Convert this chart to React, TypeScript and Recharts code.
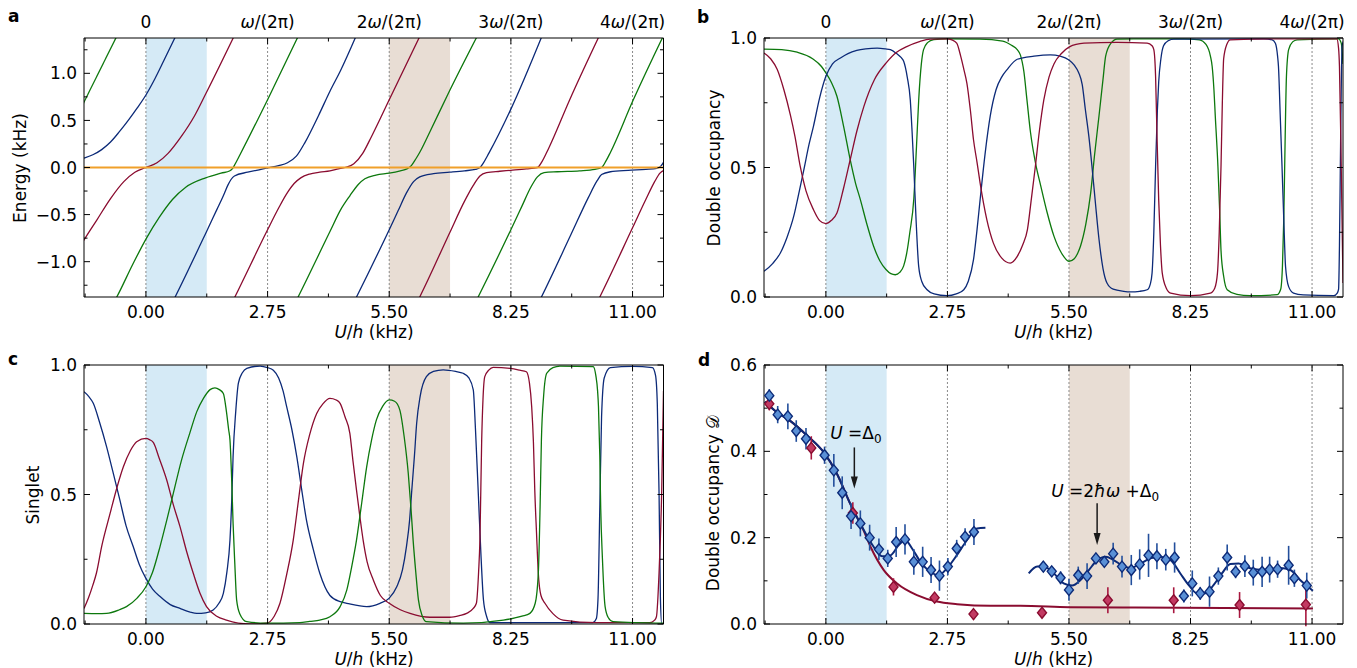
import React from 'react'
import {
  ComposedChart,
  Line,
  Scatter,
  ErrorBar,
  XAxis,
  YAxis,
  ReferenceLine,
  ReferenceArea,
  ReferenceDot,
} from 'recharts'

type Pt = [number, number]
type Dot = [number, number, number]

// ---------- axes / shared ----------
const xDomain = [-1.4, 11.7]
const xTicks = [-1.375, 0, 1.375, 2.75, 4.125, 5.5, 6.875, 8.25, 9.625, 11]
const resonances = [0, 2.75, 5.5, 8.25, 11]
const topLabels = ['0', 'ω/(2π)', '2ω/(2π)', '3ω/(2π)', '4ω/(2π)']
const energyTicks = [-1.25, -1, -0.75, -0.5, -0.25, 0, 0.25, 0.5, 0.75, 1, 1.25]
const fracTicks = [0, 0.25, 0.5, 0.75, 1]
const dTicks = [0, 0.1, 0.2, 0.3, 0.4, 0.5, 0.6]
const blueBand = [0, 1.375]
const brownBand = [5.5, 6.875]

// ---------- a: quasi-energies ----------
const aGreen1: Pt[] = [[-1.5, 0.6], [-0.6, 1.45]]
const aBlue1: Pt[] = [[-1.5, 0.085], [-1.4, 0.1], [-1.2, 0.135], [-1.0, 0.19], [-0.8, 0.27], [-0.6, 0.38], [-0.4, 0.5], [-0.2, 0.63], [0, 0.77], [0.2, 0.94], [0.4, 1.13], [0.75, 1.47]]
const aRed1: Pt[] = [[-1.5, -0.85], [-1.4, -0.77], [-1.1, -0.55], [-0.8, -0.33], [-0.5, -0.15], [-0.25, -0.05], [0, 0], [0.25, 0.05], [0.5, 0.15], [0.8, 0.33], [1.1, 0.55], [1.35, 0.78], [2.05, 1.45]]
const aGreen2: Pt[] = [[-0.75, -1.45], [-0.66, -1.375], [-0.3, -1.03], [0, -0.76], [0.3, -0.53], [0.6, -0.34], [0.9, -0.21], [1.35, -0.11], [1.7, -0.06], [1.9, -0.035], [1.96, -0.01], [2.02, 0.04], [2.12, 0.13], [2.75, 0.72], [3.5, 1.45]]
const aBlue2: Pt[] = [[0.58, -1.45], [0.66, -1.375], [1.35, -0.7], [1.6, -0.45], [1.75, -0.3], [1.85, -0.19], [1.92, -0.13], [2.0, -0.09], [2.3, -0.05], [2.6, -0.02], [2.75, -0.005], [3.0, 0.02], [3.2, 0.05], [3.4, 0.12], [3.6, 0.27], [3.9, 0.55], [4.16, 0.81], [4.4, 1.03], [4.8, 1.45]]
const aRed2: Pt[] = [[1.93, -1.45], [2.01, -1.375], [2.73, -0.68], [3.0, -0.43], [3.18, -0.28], [3.35, -0.17], [3.5, -0.11], [3.7, -0.07], [3.93, -0.05], [4.16, -0.035], [4.35, -0.015], [4.5, 0.0], [4.7, 0.04], [4.9, 0.15], [5.1, 0.33], [5.5, 0.72], [6.25, 1.45]]
const aGreen3: Pt[] = [[3.36, -1.45], [3.44, -1.375], [4.16, -0.68], [4.4, -0.45], [4.61, -0.3], [4.8, -0.18], [4.95, -0.12], [5.2, -0.08], [5.5, -0.06], [5.75, -0.035], [5.9, -0.015], [6.0, 0.02], [6.1, 0.09], [6.2, 0.17], [6.42, 0.38], [6.87, 0.82], [7.55, 1.45]]
const aBlue3: Pt[] = [[4.68, -1.45], [4.76, -1.375], [5.5, -0.66], [5.7, -0.46], [5.89, -0.27], [6.05, -0.15], [6.19, -0.1], [6.5, -0.065], [6.87, -0.05], [7.2, -0.035], [7.45, -0.02], [7.55, 0.0], [7.63, 0.05], [7.75, 0.15], [8.25, 0.62], [9.0, 1.45]]
const aRed3: Pt[] = [[6.11, -1.45], [6.19, -1.375], [6.87, -0.69], [7.2, -0.36], [7.4, -0.19], [7.55, -0.09], [7.7, -0.055], [8.0, -0.04], [8.25, -0.03], [8.6, -0.015], [8.85, 0.0], [8.95, 0.06], [9.1, 0.2], [9.58, 0.72], [10.3, 1.45]]
const aGreen4: Pt[] = [[7.43, -1.45], [7.51, -1.375], [8.25, -0.66], [8.5, -0.41], [8.7, -0.21], [8.85, -0.1], [9.0, -0.055], [9.3, -0.045], [9.8, -0.035], [10.15, -0.02], [10.3, 0.0], [10.4, 0.07], [10.5, 0.16], [11.0, 0.7], [11.75, 1.45]]
const aBlue4: Pt[] = [[8.86, -1.45], [8.94, -1.375], [9.6, -0.72], [10.0, -0.32], [10.2, -0.14], [10.3, -0.075], [10.5, -0.045], [10.9, -0.03], [11.3, -0.02], [11.55, -0.01], [11.65, 0.02], [11.75, 0.1]]
const aRed4: Pt[] = [[10.18, -1.45], [10.26, -1.375], [11.0, -0.64], [11.3, -0.34], [11.5, -0.15], [11.62, -0.06], [11.75, -0.02]]
const aTriplet: Pt[] = [[-1.5, 0], [11.8, 0]]

// ---------- b: double occupancy of the Floquet states ----------
const bGreen: Pt[] = [[-1.4, 0.957], [-1.0, 0.955], [-0.65, 0.945], [-0.3, 0.92], [-0.1, 0.89], [0, 0.865], [0.12, 0.83], [0.25, 0.775], [0.4, 0.66], [0.55, 0.53], [0.67, 0.44], [0.78, 0.376], [0.93, 0.28], [1.08, 0.196], [1.22, 0.14], [1.36, 0.106], [1.47, 0.09], [1.57, 0.086], [1.67, 0.095], [1.76, 0.12], [1.83, 0.17], [1.9, 0.25], [1.99, 0.38], [2.05, 0.58], [2.1, 0.76], [2.16, 0.9], [2.21, 0.955], [2.3, 0.982], [2.44, 0.994], [2.74, 0.997], [3.49, 0.996], [4.0, 0.988], [4.2, 0.972], [4.33, 0.955], [4.4, 0.935], [4.48, 0.87], [4.55, 0.76], [4.63, 0.635], [4.74, 0.52], [4.86, 0.43], [5.0, 0.33], [5.16, 0.235], [5.33, 0.17], [5.5, 0.138], [5.62, 0.148], [5.7, 0.17], [5.76, 0.196], [5.88, 0.28], [5.99, 0.4], [6.08, 0.55], [6.18, 0.7], [6.27, 0.84], [6.33, 0.93], [6.45, 0.98], [6.59, 0.996], [8.1, 0.997], [8.45, 0.993], [8.6, 0.975], [8.7, 0.93], [8.74, 0.89], [8.78, 0.8], [8.81, 0.7], [8.87, 0.505], [8.91, 0.33], [8.94, 0.18], [9.0, 0.08], [9.08, 0.028], [9.3, 0.01], [9.6, 0.005], [10.21, 0.009], [10.29, 0.03], [10.33, 0.12], [10.36, 0.3], [10.39, 0.6], [10.42, 0.85], [10.47, 0.955], [10.56, 0.985], [10.66, 0.993], [11.6, 0.997], [11.66, 0.98], [11.7, 0.9]]
const bBlue: Pt[] = [[-1.4, 0.099], [-1.2, 0.13], [-1.03, 0.17], [-0.88, 0.23], [-0.73, 0.31], [-0.6, 0.41], [-0.5, 0.49], [-0.38, 0.59], [-0.28, 0.66], [-0.14, 0.77], [0, 0.852], [0.15, 0.9], [0.33, 0.923], [0.5, 0.94], [0.7, 0.952], [0.9, 0.958], [1.16, 0.961], [1.35, 0.958], [1.46, 0.955], [1.6, 0.94], [1.7, 0.925], [1.76, 0.91], [1.84, 0.85], [1.91, 0.76], [1.95, 0.64], [1.99, 0.5], [2.04, 0.3], [2.1, 0.118], [2.17, 0.06], [2.29, 0.028], [2.45, 0.012], [2.74, 0.005], [2.95, 0.012], [3.12, 0.028], [3.22, 0.06], [3.34, 0.144], [3.42, 0.26], [3.49, 0.376], [3.6, 0.55], [3.72, 0.7], [3.85, 0.8], [3.98, 0.85], [4.1, 0.878], [4.33, 0.918], [4.71, 0.93], [5.08, 0.935], [5.3, 0.93], [5.5, 0.915], [5.62, 0.895], [5.72, 0.866], [5.8, 0.82], [5.87, 0.725], [5.95, 0.62], [6.02, 0.505], [6.1, 0.36], [6.18, 0.222], [6.27, 0.11], [6.36, 0.054], [6.5, 0.03], [6.74, 0.022], [6.89, 0.02], [7.1, 0.022], [7.27, 0.028], [7.34, 0.05], [7.38, 0.092], [7.42, 0.25], [7.46, 0.505], [7.5, 0.72], [7.53, 0.83], [7.58, 0.92], [7.64, 0.97], [7.75, 0.99], [7.87, 0.996], [9.91, 0.997], [10.1, 0.993], [10.17, 0.98], [10.22, 0.93], [10.24, 0.89], [10.28, 0.7], [10.32, 0.505], [10.36, 0.3], [10.4, 0.118], [10.47, 0.04], [10.58, 0.015], [10.8, 0.008], [11.49, 0.005], [11.57, 0.015], [11.6, 0.03], [11.62, 0.2], [11.64, 0.505], [11.66, 0.8], [11.68, 0.97], [11.72, 0.99]]
const bRed: Pt[] = [[-1.4, 0.942], [-1.25, 0.92], [-1.1, 0.878], [-0.95, 0.8], [-0.8, 0.7], [-0.7, 0.62], [-0.58, 0.504], [-0.45, 0.41], [-0.28, 0.337], [-0.14, 0.295], [0, 0.283], [0.12, 0.295], [0.25, 0.324], [0.4, 0.42], [0.55, 0.53], [0.7, 0.64], [0.86, 0.736], [1.1, 0.84], [1.36, 0.903], [1.6, 0.945], [1.83, 0.967], [2.1, 0.985], [2.36, 0.996], [2.74, 0.997], [2.85, 0.993], [2.96, 0.98], [3.05, 0.93], [3.12, 0.88], [3.19, 0.826], [3.27, 0.72], [3.34, 0.607], [3.42, 0.52], [3.49, 0.44], [3.64, 0.3], [3.79, 0.208], [3.98, 0.15], [4.17, 0.131], [4.33, 0.157], [4.45, 0.2], [4.56, 0.26], [4.65, 0.38], [4.74, 0.505], [4.83, 0.64], [4.93, 0.76], [5.05, 0.85], [5.16, 0.9], [5.33, 0.94], [5.5, 0.965], [5.84, 0.98], [6.59, 0.983], [7.27, 0.98], [7.38, 0.97], [7.42, 0.955], [7.46, 0.85], [7.49, 0.635], [7.53, 0.376], [7.57, 0.2], [7.61, 0.093], [7.7, 0.035], [7.8, 0.015], [8.25, 0.005], [8.7, 0.015], [8.8, 0.035], [8.86, 0.093], [8.9, 0.25], [8.94, 0.505], [8.97, 0.75], [9.0, 0.92], [9.07, 0.975], [9.15, 0.993], [10.06, 0.997], [11.56, 0.997], [11.6, 0.96], [11.62, 0.89], [11.66, 0.505], [11.7, 0.054]]

// ---------- c: singlet fraction ----------
const cBlue: Pt[] = [[-1.4, 0.897], [-1.3, 0.88], [-1.19, 0.852], [-1.05, 0.78], [-0.89, 0.685], [-0.75, 0.59], [-0.59, 0.479], [-0.45, 0.38], [-0.29, 0.3], [-0.15, 0.23], [0, 0.176], [0.15, 0.135], [0.32, 0.106], [0.55, 0.075], [0.77, 0.06], [1.0, 0.046], [1.15, 0.041], [1.35, 0.043], [1.52, 0.054], [1.65, 0.08], [1.75, 0.118], [1.83, 0.2], [1.9, 0.324], [1.94, 0.48], [1.97, 0.646], [2.03, 0.82], [2.09, 0.93], [2.18, 0.97], [2.28, 0.987], [2.58, 0.996], [2.75, 0.99], [2.88, 0.98], [3.0, 0.95], [3.1, 0.9], [3.18, 0.84], [3.3, 0.75], [3.41, 0.646], [3.52, 0.52], [3.63, 0.4], [3.78, 0.29], [3.93, 0.196], [4.16, 0.11], [4.39, 0.086], [4.54, 0.08], [4.99, 0.067], [5.29, 0.08], [5.5, 0.1], [5.67, 0.144], [5.8, 0.21], [5.89, 0.3], [5.96, 0.4], [6.01, 0.517], [6.07, 0.65], [6.12, 0.775], [6.2, 0.88], [6.34, 0.955], [6.5, 0.975], [6.72, 0.981], [7.0, 0.975], [7.17, 0.968], [7.3, 0.95], [7.4, 0.904], [7.45, 0.75], [7.51, 0.517], [7.57, 0.28], [7.63, 0.093], [7.7, 0.03], [7.78, 0.005], [10.1, 0.005], [10.18, 0.02], [10.22, 0.1], [10.26, 0.45], [10.3, 0.8], [10.36, 0.95], [10.5, 0.99], [11.0, 0.995], [11.45, 0.99], [11.52, 0.96], [11.56, 0.85], [11.6, 0.5], [11.63, 0.1], [11.66, 0.0], [11.7, 0.0]]
const cRed: Pt[] = [[-1.4, 0.06], [-1.3, 0.1], [-1.2, 0.15], [-1.12, 0.196], [-1.0, 0.3], [-0.81, 0.427], [-0.65, 0.53], [-0.51, 0.607], [-0.35, 0.67], [-0.21, 0.704], [0, 0.717], [0.08, 0.712], [0.17, 0.7], [0.3, 0.64], [0.47, 0.556], [0.62, 0.46], [0.77, 0.376], [0.92, 0.28], [1.07, 0.196], [1.22, 0.12], [1.37, 0.067], [1.6, 0.03], [1.82, 0.015], [2.35, 0.0], [2.73, 0.003], [2.9, 0.03], [3.03, 0.08], [3.18, 0.19], [3.33, 0.324], [3.45, 0.48], [3.56, 0.62], [3.7, 0.73], [3.86, 0.813], [4.0, 0.85], [4.16, 0.871], [4.3, 0.865], [4.39, 0.852], [4.5, 0.8], [4.61, 0.736], [4.68, 0.63], [4.76, 0.517], [4.84, 0.41], [4.91, 0.324], [5.0, 0.24], [5.14, 0.17], [5.3, 0.11], [5.5, 0.08], [5.75, 0.055], [5.97, 0.041], [6.42, 0.026], [6.87, 0.026], [7.1, 0.033], [7.25, 0.041], [7.4, 0.06], [7.47, 0.08], [7.52, 0.2], [7.55, 0.324], [7.59, 0.71], [7.62, 0.87], [7.66, 0.955], [7.75, 0.98], [7.85, 0.991], [8.23, 0.987], [8.45, 0.98], [8.6, 0.974], [8.67, 0.93], [8.72, 0.84], [8.76, 0.7], [8.79, 0.517], [8.83, 0.35], [8.87, 0.196], [8.93, 0.11], [9.02, 0.08], [9.2, 0.04], [9.43, 0.015], [10.19, 0.005], [11.39, 0.005], [11.5, 0.015], [11.54, 0.028], [11.6, 0.2], [11.66, 0.517], [11.7, 0.9]]
const cGreen: Pt[] = [[-1.4, 0.041], [-1.1, 0.04], [-0.89, 0.041], [-0.6, 0.055], [-0.44, 0.067], [-0.2, 0.1], [0, 0.144], [0.15, 0.2], [0.32, 0.3], [0.47, 0.4], [0.62, 0.505], [0.8, 0.63], [0.99, 0.736], [1.15, 0.82], [1.3, 0.871], [1.45, 0.905], [1.56, 0.912], [1.66, 0.905], [1.75, 0.89], [1.82, 0.82], [1.87, 0.75], [1.9, 0.71], [1.94, 0.55], [1.97, 0.389], [2.01, 0.23], [2.05, 0.093], [2.12, 0.04], [2.28, 0.009], [2.73, 0.003], [3.48, 0.005], [3.7, 0.01], [3.93, 0.015], [4.16, 0.028], [4.39, 0.067], [4.54, 0.131], [4.65, 0.22], [4.76, 0.324], [4.88, 0.47], [4.99, 0.607], [5.1, 0.71], [5.21, 0.788], [5.35, 0.84], [5.5, 0.865], [5.62, 0.86], [5.74, 0.826], [5.84, 0.72], [5.93, 0.582], [5.99, 0.45], [6.04, 0.324], [6.1, 0.2], [6.16, 0.093], [6.25, 0.03], [6.34, 0.009], [7.17, 0.003], [8.08, 0.015], [8.5, 0.03], [8.68, 0.041], [8.8, 0.08], [8.87, 0.196], [8.91, 0.45], [8.94, 0.71], [8.99, 0.88], [9.06, 0.968], [9.2, 0.99], [9.36, 0.996], [10.11, 0.994], [10.17, 0.96], [10.21, 0.9], [10.23, 0.84], [10.26, 0.65], [10.28, 0.453], [10.32, 0.25], [10.38, 0.067], [10.45, 0.025], [10.56, 0.009], [11.7, 0.003]]

// ---------- d: measured double occupancy [x, D, err] ----------
const dBlueDots: Dot[] = [[-1.28, 0.529, 0.015], [-1.09, 0.485, 0.02], [-0.86, 0.481, 0.03], [-0.67, 0.447, 0.025], [-0.45, 0.429, 0.025], [-0.03, 0.391, 0.02], [0.18, 0.356, 0.038], [0.37, 0.304, 0.038], [0.57, 0.25, 0.03], [0.78, 0.233, 0.03], [0.99, 0.2, 0.03], [1.2, 0.173, 0.025], [1.4, 0.152, 0.02], [1.59, 0.19, 0.035], [1.79, 0.196, 0.035], [1.99, 0.144, 0.03], [2.19, 0.144, 0.035], [2.38, 0.125, 0.03], [2.57, 0.112, 0.035], [2.76, 0.133, 0.02], [2.96, 0.175, 0.02], [3.15, 0.202, 0.02], [3.35, 0.213, 0.03], [4.92, 0.133, 0.012], [5.11, 0.122, 0.01], [5.31, 0.107, 0.015], [5.5, 0.079, 0.025], [5.71, 0.113, 0.02], [5.91, 0.111, 0.03], [6.11, 0.152, 0.012], [6.3, 0.144, 0.012], [6.5, 0.163, 0.025], [6.7, 0.133, 0.025], [6.91, 0.125, 0.035], [7.1, 0.138, 0.035], [7.3, 0.159, 0.05], [7.49, 0.157, 0.03], [7.69, 0.149, 0.025], [7.89, 0.154, 0.035], [8.1, 0.065, 0.015], [8.29, 0.094, 0.03], [8.47, 0.071, 0.015], [8.68, 0.075, 0.035], [8.88, 0.111, 0.02], [9.08, 0.154, 0.03], [9.27, 0.121, 0.015], [9.48, 0.134, 0.025], [9.67, 0.119, 0.03], [9.87, 0.121, 0.035], [10.04, 0.126, 0.03], [10.22, 0.127, 0.02], [10.47, 0.136, 0.045], [10.6, 0.106, 0.02], [10.88, 0.089, 0.03]]
const dRedDots: Dot[] = [[-1.28, 0.51, 0.015], [-0.33, 0.408, 0.027], [0.61, 0.257, 0.025], [1.53, 0.086, 0.02], [2.46, 0.061, 0.01], [3.34, 0.023, 0.012], [4.89, 0.026, 0.006], [6.38, 0.055, 0.03], [7.87, 0.055, 0.03], [9.36, 0.044, 0.03], [10.86, 0.045, 0.05]]
const dBlueFit1: Pt[] = [[-1.38, 0.515], [-1.1, 0.49], [-0.8, 0.47], [-0.43, 0.437], [-0.05, 0.398], [0.25, 0.348], [0.55, 0.279], [0.86, 0.217], [1.08, 0.179], [1.27, 0.157], [1.46, 0.159], [1.65, 0.183], [1.8, 0.194], [1.95, 0.175], [2.14, 0.144], [2.36, 0.121], [2.55, 0.113], [2.74, 0.129], [2.96, 0.159], [3.19, 0.194], [3.42, 0.221], [3.61, 0.223]]
const dBlueFit2: Pt[] = [[4.59, 0.117], [4.78, 0.133], [4.93, 0.133], [5.16, 0.117], [5.38, 0.094], [5.57, 0.089], [5.76, 0.102], [5.95, 0.125], [6.14, 0.148], [6.33, 0.156], [6.51, 0.148], [6.7, 0.136], [6.89, 0.13], [7.12, 0.14], [7.34, 0.152], [7.57, 0.156], [7.8, 0.148], [8.02, 0.117], [8.21, 0.09], [8.4, 0.071], [8.59, 0.071], [8.77, 0.09], [8.96, 0.117], [9.15, 0.139], [9.34, 0.14], [9.6, 0.129], [9.91, 0.125], [10.28, 0.13], [10.51, 0.125], [10.73, 0.102], [11.02, 0.077]]
const dRedFit: Pt[] = [[-1.38, 0.515], [-1.1, 0.49], [-0.8, 0.47], [-0.43, 0.437], [-0.05, 0.398], [0.25, 0.348], [0.55, 0.279], [0.86, 0.215], [1.01, 0.179], [1.31, 0.125], [1.61, 0.094], [2.06, 0.067], [2.51, 0.052], [2.97, 0.046], [3.72, 0.042], [4.4, 0.042], [5.5, 0.039], [7.0, 0.038], [9.0, 0.037], [11.02, 0.036]]

// annotation arrows in d (x, top of shaft, tip)
const arrowDelta0 = { x: 0.644, top: 0.409, tip: 0.314 }
const arrow2hw = { x: 6.137, top: 0.28, tip: 0.183 }

const FONT = '"DejaVu Sans", Verdana, sans-serif'
const FS = 17
const GREEN = '#0d780d'
const BLUE = '#0c2a78'
const RED = '#8a0c30'
const ORANGE = '#f0a02a'

const pts = (a: Pt[]) => a.map(([x, y]) => ({ x, y }))
const dots = (a: Dot[]) => a.map(([x, y, e]) => ({ x, y, e }))
const isMult = (v: number, step: number) => Math.abs(v / step - Math.round(v / step)) < 1e-6

const omega = (s: string) => {
  const i = s.indexOf('ω')
  if (i < 0) return s
  return (
    <>
      {s.slice(0, i)}
      <tspan fontStyle="italic">ω</tspan>
      {s.slice(i + 1)}
    </>
  )
}

function Tick(props: any) {
  const { x, y, payload, side, step, fmt } = props
  const v = payload.value
  const major = isMult(v, step)
  const len = major ? 6 : 3.5
  const label = major && fmt ? fmt(v) : null
  const t = { fontSize: FS, fontFamily: FONT, fill: '#000' }
  if (side === 'bottom')
    return (
      <g>
        <line x1={x} x2={x} y1={y} y2={y - len} stroke="#000" />
        {label != null && <text x={x} y={y + 20.5} textAnchor="middle" {...t}>{label}</text>}
      </g>
    )
  if (side === 'top')
    return (
      <g>
        <line x1={x} x2={x} y1={y} y2={y + len} stroke="#000" />
        {label != null && <text x={x} y={y - 10} textAnchor="middle" {...t}>{label}</text>}
      </g>
    )
  if (side === 'left')
    return (
      <g>
        <line x1={x} x2={x + len} y1={y} y2={y} stroke="#000" />
        {label != null && <text x={x - 7} y={y} dy="0.36em" textAnchor="end" {...t}>{label}</text>}
      </g>
    )
  return <line x1={x} x2={x - len} y1={y} y2={y} stroke="#000" />
}

const fmtX = (v: number) => v.toFixed(2)
const fmtTop = (v: number) => omega(topLabels[Math.round(v / 2.75)])
const fmtY = (v: number) => v.toFixed(1).replace('-', '\u2212')

const curve = (d: Pt[], color: string, key: string, w = 1.3) => (
  <Line
    key={key}
    data={pts(d)}
    dataKey="y"
    type="monotone"
    stroke={color}
    strokeWidth={w}
    dot={false}
    activeDot={false}
    isAnimationActive={false}
  />
)

const diamond = (fill: string, edge: string) => (p: any) => {
  const { cx, cy } = p
  if (cx == null || cy == null) return <g />
  return (
    <polygon
      points={`${cx},${cy - 5.5} ${cx + 4.5},${cy} ${cx},${cy + 5.5} ${cx - 4.5},${cy}`}
      fill={fill}
      stroke={edge}
      strokeWidth={1.4}
    />
  )
}

interface PanelProps {
  left: number
  top: number
  width: number
  height: number
  rightMargin: number
  bottomMargin: number
  yDomain: number[]
  yTicks: number[]
  yStep: number
  topText: boolean
  anchor: Pt[]
  children: React.ReactNode
}

function Panel({ left, top, width, height, rightMargin, bottomMargin, yDomain, yTicks, yStep, topText, anchor, children }: PanelProps) {
  return (
    <div style={{ position: 'absolute', left, top }}>
      <ComposedChart width={width} height={height} margin={{ top: 8, right: rightMargin, bottom: bottomMargin, left: 0 }}>
        <ReferenceArea x1={blueBand[0]} x2={blueBand[1]} fill="#d5eaf6" fillOpacity={1} stroke="none" />
        <ReferenceArea x1={brownBand[0]} x2={brownBand[1]} fill="#e8ddd4" fillOpacity={1} stroke="none" />
        {resonances.map((r) => (
          <ReferenceLine key={r} x={r} stroke="#8a8a8a" strokeDasharray="2 2" strokeWidth={1} />
        ))}
        {children}
        {/* invisible copy bound to the mirrored top/right axes so they get ticks */}
        <Line
          xAxisId="top"
          yAxisId="right"
          data={pts(anchor)}
          dataKey="y"
          stroke="none"
          strokeWidth={0}
          dot={false}
          activeDot={false}
          isAnimationActive={false}
        />
        <XAxis
          type="number"
          dataKey="x"
          domain={xDomain}
          ticks={xTicks}
          allowDataOverflow
          interval={0}
          tickSize={0}
          tickMargin={0}
          tickLine={false}
          height={30}
          stroke="#000"
          tick={<Tick side="bottom" step={2.75} fmt={fmtX} />}
        />
        <XAxis
          xAxisId="top"
          orientation="top"
          type="number"
          dataKey="x"
          domain={xDomain}
          ticks={xTicks}
          allowDataOverflow
          interval={0}
          tickSize={0}
          tickMargin={0}
          tickLine={false}
          height={30}
          stroke="#000"
          tick={<Tick side="top" step={2.75} fmt={topText ? fmtTop : null} />}
        />
        <YAxis
          type="number"
          dataKey="y"
          domain={yDomain}
          ticks={yTicks}
          allowDataOverflow
          interval={0}
          tickSize={0}
          tickMargin={0}
          tickLine={false}
          width={84}
          stroke="#000"
          tick={<Tick side="left" step={yStep} fmt={fmtY} />}
        />
        <YAxis
          yAxisId="right"
          orientation="right"
          type="number"
          dataKey="y"
          domain={yDomain}
          ticks={yTicks}
          allowDataOverflow
          interval={0}
          tickSize={0}
          tickMargin={0}
          tickLine={false}
          width={1}
          stroke="#000"
          tick={<Tick side="right" step={yStep} />}
        />
      </ComposedChart>
    </div>
  )
}

const arrowHead = (p: any) => (
  <polygon points={`${p.cx - 3.5},${p.cy - 12} ${p.cx + 3.5},${p.cy - 12} ${p.cx},${p.cy}`} fill="#1a1a1a" />
)

export default function App() {
  const txt = { fontFamily: FONT, fontSize: FS, fill: '#000' }
  const xLabel = (cx: number, y: number) => (
    <text x={cx} y={y} textAnchor="middle" {...txt}>
      <tspan fontStyle="italic">U</tspan>/<tspan fontStyle="italic">h</tspan> (kHz)
    </text>
  )
  const yLabel = (cx: number, cy: number, s: string) => (
    <text transform={`translate(${cx},${cy}) rotate(-90)`} textAnchor="middle" dy="0.35em" {...txt}>
      {s}
    </text>
  )
  return (
    <div style={{ position: 'absolute', left: 0, top: 0, width: 1357, height: 668, background: '#fff' }}>
      {/* a */}
      <Panel left={0} top={0} width={680} height={340} rightMargin={15.5} bottomMargin={13} yDomain={[-1.375, 1.375]} yTicks={energyTicks} yStep={0.5} topText anchor={aTriplet}>
        {curve(aGreen1, GREEN, 'g1')}
        {curve(aBlue1, BLUE, 'b1')}
        {curve(aRed1, RED, 'r1')}
        {curve(aGreen2, GREEN, 'g2')}
        {curve(aBlue2, BLUE, 'b2')}
        {curve(aRed2, RED, 'r2')}
        {curve(aGreen3, GREEN, 'g3')}
        {curve(aBlue3, BLUE, 'b3')}
        {curve(aRed3, RED, 'r3')}
        {curve(aGreen4, GREEN, 'g4')}
        {curve(aBlue4, BLUE, 'b4')}
        {curve(aRed4, RED, 'r4')}
        {curve(aTriplet, ORANGE, 't', 1.8)}
      </Panel>
      {/* b */}
      <Panel left={680} top={0} width={677} height={340} rightMargin={13} bottomMargin={13} yDomain={[0, 1]} yTicks={fracTicks} yStep={0.5} topText anchor={bGreen}>
        {curve(bGreen, GREEN, 'g')}
        {curve(bBlue, BLUE, 'b')}
        {curve(bRed, RED, 'r')}
      </Panel>
      {/* c */}
      <Panel left={0} top={327} width={680} height={341} rightMargin={15.5} bottomMargin={14} yDomain={[0, 1]} yTicks={fracTicks} yStep={0.5} topText={false} anchor={cGreen}>
        {curve(cBlue, BLUE, 'b')}
        {curve(cRed, RED, 'r')}
        {curve(cGreen, GREEN, 'g')}
      </Panel>
      {/* d */}
      <Panel left={680} top={327} width={677} height={341} rightMargin={13} bottomMargin={14} yDomain={[0, 0.6]} yTicks={dTicks} yStep={0.2} topText={false} anchor={dRedFit}>
        {curve(dRedFit, RED, 'rf', 2)}
        {curve(dBlueFit1, BLUE, 'bf1', 2)}
        {curve(dBlueFit2, BLUE, 'bf2', 2)}
        <Scatter data={dots(dRedDots)} dataKey="y" shape={diamond('#c23a62', RED)} isAnimationActive={false}>
          <ErrorBar dataKey="e" direction="y" width={0} stroke="#a8173f" strokeWidth={1.6} />
        </Scatter>
        <Scatter data={dots(dBlueDots)} dataKey="y" shape={diamond('#5a90d6', BLUE)} isAnimationActive={false}>
          <ErrorBar dataKey="e" direction="y" width={0} stroke="#234f9c" strokeWidth={1.6} />
        </Scatter>
        <ReferenceLine segment={[{ x: arrowDelta0.x, y: arrowDelta0.top }, { x: arrowDelta0.x, y: arrowDelta0.tip + 0.02 }]} stroke="#1a1a1a" strokeWidth={1.5} />
        <ReferenceDot x={arrowDelta0.x} y={arrowDelta0.tip} r={0} shape={arrowHead} />
        <ReferenceDot
          x={arrowDelta0.x}
          y={arrowDelta0.top}
          r={0}
          shape={(p: any) => (
            <text x={p.cx + 1.5} y={p.cy - 8} textAnchor="middle" {...txt}>
              <tspan fontStyle="italic">U</tspan> =Δ<tspan fontSize={12} dy={4}>0</tspan>
            </text>
          )}
        />
        <ReferenceLine segment={[{ x: arrow2hw.x, y: arrow2hw.top }, { x: arrow2hw.x, y: arrow2hw.tip + 0.02 }]} stroke="#1a1a1a" strokeWidth={1.5} />
        <ReferenceDot x={arrow2hw.x} y={arrow2hw.tip} r={0} shape={arrowHead} />
        <ReferenceDot
          x={arrow2hw.x}
          y={arrow2hw.top}
          r={0}
          shape={(p: any) => (
            <text x={p.cx + 8} y={p.cy - 6} textAnchor="middle" {...txt}>
              <tspan fontStyle="italic">U</tspan> =2<tspan fontStyle="italic">ħω</tspan> +Δ<tspan fontSize={12} dy={4}>0</tspan>
            </text>
          )}
        />
      </Panel>
      <svg width={1357} height={668} style={{ position: 'absolute', left: 0, top: 0, pointerEvents: 'none' }}>
        <text x={8} y={22} fontWeight="bold" {...txt}>a</text>
        <text x={697} y={23} fontWeight="bold" {...txt}>b</text>
        <text x={8} y={365} fontWeight="bold" {...txt}>c</text>
        <text x={698} y={366} fontWeight="bold" {...txt}>d</text>
        {yLabel(20, 168, 'Energy (kHz)')}
        {yLabel(714, 168, 'Double occupancy')}
        {yLabel(33, 495, 'Singlet')}
        {yLabel(713, 503, 'Double occupancy 𝒟')}
        {xLabel(374, 338)}
        {xLabel(1053.5, 338)}
        {xLabel(374, 665)}
        {xLabel(1053.5, 665)}
      </svg>
    </div>
  )
}
